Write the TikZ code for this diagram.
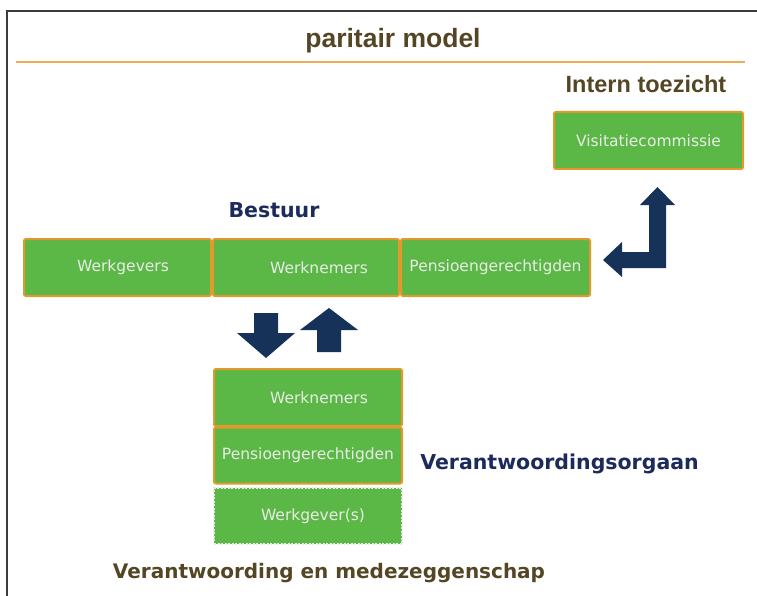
\documentclass[tikz,border=0pt]{standalone}
\usepackage{fontspec}
\setmainfont{DejaVu Sans}
\newfontfamily\arialfont{Liberation Sans}
\definecolor{boxgreen}{RGB}{92,184,70}
\definecolor{boxorange}{RGB}{226,152,42}
\definecolor{lineorange}{RGB}{238,172,88}
\definecolor{navy}{RGB}{22,50,88}
\definecolor{navytext}{RGB}{28,42,92}
\definecolor{brown}{RGB}{84,70,36}
\definecolor{boxtext}{RGB}{232,236,230}
\definecolor{framegray}{RGB}{60,60,60}
\tikzset{
  gbox/.style={rectangle, fill=boxgreen, draw=boxorange, line width=2pt,
    rounded corners=2pt, inner sep=0pt, text=boxtext,
    font=\fontsize{15.5}{17}\selectfont},
  dbox/.style={rectangle, fill=boxgreen, draw=boxtext, line width=1.2pt,
    dash pattern=on 2pt off 1.5pt, inner sep=0pt, text=boxtext,
    font=\fontsize{15.5}{17}\selectfont},
  brtitle/.style={text=brown, inner sep=0pt, anchor=base},
  navlabel/.style={text=navytext, inner sep=0pt, anchor=base,
    font=\fontsize{20.5}{22}\selectfont\bfseries},
  blockarrow/.style={fill=navy, draw=none}
}
\begin{document}
\begin{tikzpicture}[x=1pt,y=-1pt]
\useasboundingbox (0,0) rectangle (757,596);
\fill[white] (0,0) rectangle (757,596);
% frame
\draw[framegray, line width=1.5pt] (7,596) -- (7,11) -- (757,11);
% title
\node[brtitle, font=\arialfont\fontsize{26.5}{28}\selectfont\bfseries] (title) at (393,48) {paritair model};
\draw[lineorange, line width=2pt] (16,62) -- (745,62);
\node[brtitle, font=\arialfont\fontsize{23.5}{25}\selectfont\bfseries] (intern) at (646,93) {Intern toezicht};
% Visitatiecommissie
\node[gbox, minimum width=189pt, minimum height=57pt] (visit) at (648.5,140.5) {Visitatiecommissie};
% Bestuur
\node[navlabel] (bestuur) at (274,217) {Bestuur};
\node[gbox, minimum width=187pt, minimum height=57pt] (wg) at (117.5,267.5) {\hspace*{11pt}Werkgevers};
\node[gbox, minimum width=186pt, minimum height=57pt] (wn) at (306,267.5) {\hspace*{26pt}Werknemers};
\node[gbox, minimum width=189pt, minimum height=57pt] (pg) at (495.5,267.5) {Pensioengerechtigden};
% lower group
\node[dbox, minimum width=188pt, minimum height=56pt] (wgs) at (308,516) {\hspace*{10pt}Werkgever(s)};
\node[gbox, minimum width=188pt, minimum height=56pt] (pg2) at (308,455.5) {Pensioengerechtigden};
\node[gbox, minimum width=188pt, minimum height=57pt] (wn2) at (308,397.5) {\hspace*{22pt}Werknemers};
\node[navlabel] (vo) at (559.5,469) {Verantwoordingsorgaan};
\node[brtitle, font=\fontsize{20}{22}\selectfont\bfseries] (vm) at (329,578) {Verantwoording en medezeggenschap};
% block arrows
\fill[blockarrow] (254,313) -- (278,313) -- (278,333) -- (295,333) -- (266,358)
  -- (237,333) -- (254,333) -- cycle;
\fill[blockarrow] (317,352) -- (341,352) -- (341,330) -- (358,330) -- (329,308)
  -- (300,330) -- (317,330) -- cycle;
\fill[blockarrow] (603,260) -- (622,242) -- (622,252) -- (649,252) -- (649,205)
  -- (640,205) -- (657.5,187) -- (675,205) -- (666,205) -- (666,268)
  -- (622,268) -- (622,277) -- cycle;
\end{tikzpicture}
\end{document}
